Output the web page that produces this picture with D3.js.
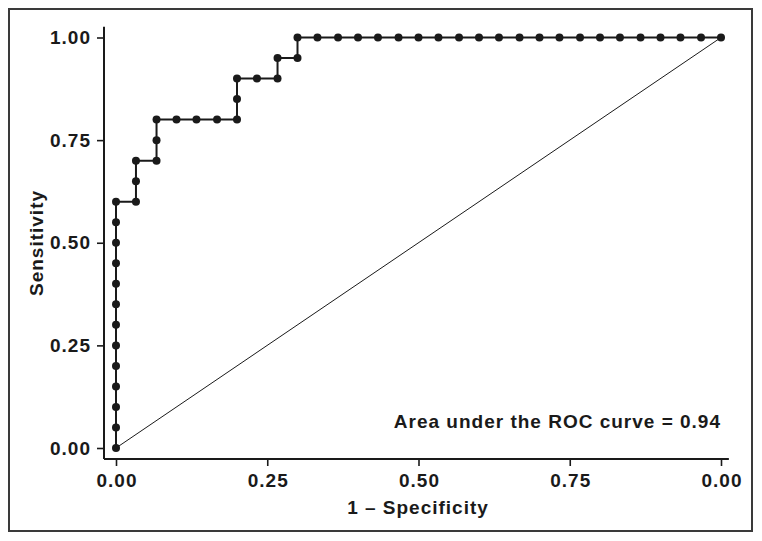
<!DOCTYPE html>
<html>
<head>
<meta charset="utf-8">
<script src="https://cdn.jsdelivr.net/npm/d3@7"></script>
<style>
  html, body { margin: 0; padding: 0; background: #fff; }
  svg { display: block; }
  text { font-family: "Liberation Sans", Arial, Helvetica, sans-serif; font-weight: bold; fill: #1a1a1a; }
</style>
</head>
<body>
<svg id="chart" width="762" height="541"></svg>
<script>
// ---- Data ----
const fpr = [0, 0, 0, 0, 0, 0, 0, 0, 0, 0, 0, 0, 0,
             0.033, 0.033, 0.033,
             0.067, 0.067, 0.067,
             0.1, 0.133, 0.167,
             0.2, 0.2, 0.2,
             0.233,
             0.267, 0.267,
             0.3, 0.3,
             0.333, 0.367, 0.4, 0.433, 0.467, 0.5, 0.533, 0.567, 0.6, 0.633,
             0.667, 0.7, 0.733, 0.767, 0.8, 0.833, 0.867, 0.9, 0.933, 0.967, 1.0];
const tpr = [0, 0.05, 0.1, 0.15, 0.2, 0.25, 0.3, 0.35, 0.4, 0.45, 0.5, 0.55, 0.6,
             0.6, 0.65, 0.7,
             0.7, 0.75, 0.8,
             0.8, 0.8, 0.8,
             0.8, 0.85, 0.9,
             0.9,
             0.9, 0.95,
             0.95, 1.0,
             1.0, 1.0, 1.0, 1.0, 1.0, 1.0, 1.0, 1.0, 1.0, 1.0,
             1.0, 1.0, 1.0, 1.0, 1.0, 1.0, 1.0, 1.0, 1.0, 1.0, 1.0];
const xTickValues = [0, 0.25, 0.5, 0.75, 1];
const xTickLabels = ["0.00", "0.25", "0.50", "0.75", "0.00"];
const yTickValues = [0, 0.25, 0.5, 0.75, 1];
const yTickLabels = ["0.00", "0.25", "0.50", "0.75", "1.00"];
const xTitle = "1 \u2013 Specificity";
const yTitle = "Sensitivity";
const aucLabel = "Area under the ROC curve = 0.94";

// ---- Layout ----
const svg = d3.select("#chart");
const ink = "#1a1a1a";
const x = d3.scaleLinear().domain([0, 1]).range([116, 721]);
const y = d3.scaleLinear().domain([0, 1]).range([448, 37.5]);
const axisY = 459;   // pixel position of x-axis line
const axisX = 104;   // pixel position of y-axis line
const fontSize = 19;
const spacing = "1px";

// outer frame
svg.append("rect")
  .attr("x", 9).attr("y", 9).attr("width", 743).attr("height", 522)
  .attr("fill", "none").attr("stroke", "#3a3a3a").attr("stroke-width", 2);

// x axis
const xAxis = d3.axisBottom(x)
  .tickValues(xTickValues)
  .tickFormat((d, i) => xTickLabels[i])
  .tickSize(7).tickSizeOuter(0).tickPadding(8);
const gx = svg.append("g").attr("transform", `translate(0,${axisY})`).call(xAxis);
gx.select(".domain").remove();
gx.append("line")
  .attr("x1", axisX).attr("x2", x(1.013)).attr("y1", 0).attr("y2", 0)
  .attr("stroke", ink).attr("stroke-width", 2);
gx.selectAll(".tick line").attr("stroke", ink).attr("stroke-width", 1.6);
gx.selectAll(".tick text")
  .attr("font-size", fontSize).style("letter-spacing", spacing)
  .attr("font-family", null).attr("fill", ink)
  .attr("dx", "0.5px");

// y axis
const yAxis = d3.axisLeft(y)
  .tickValues(yTickValues)
  .tickFormat((d, i) => yTickLabels[i])
  .tickSize(7).tickSizeOuter(0).tickPadding(6);
const gy = svg.append("g").attr("transform", `translate(${axisX},0)`).call(yAxis);
gy.select(".domain").remove();
gy.append("line")
  .attr("x1", 0).attr("x2", 0).attr("y1", y(1.026)).attr("y2", axisY)
  .attr("stroke", ink).attr("stroke-width", 2);
gy.selectAll(".tick line").attr("stroke", ink).attr("stroke-width", 1.6);
gy.selectAll(".tick text")
  .attr("font-size", fontSize).style("letter-spacing", spacing)
  .attr("font-family", null).attr("fill", ink);

// reference diagonal
svg.append("line")
  .attr("x1", x(0)).attr("y1", y(0)).attr("x2", x(1)).attr("y2", y(1))
  .attr("stroke", ink).attr("stroke-width", 1);

// ROC curve
const pts = fpr.map((f, i) => [f, tpr[i]]);
svg.append("path")
  .datum(pts)
  .attr("fill", "none").attr("stroke", ink).attr("stroke-width", 2)
  .attr("d", d3.line().x(d => x(d[0])).y(d => y(d[1])));
svg.append("g").selectAll("circle")
  .data(pts).join("circle")
  .attr("cx", d => x(d[0])).attr("cy", d => y(d[1])).attr("r", 4)
  .attr("fill", ink);

// titles
svg.append("text")
  .attr("x", 418).attr("y", 514)
  .attr("text-anchor", "middle").attr("font-size", fontSize)
  .style("letter-spacing", spacing)
  .text(xTitle);
svg.append("text")
  .attr("transform", "translate(43,243) rotate(-90)")
  .attr("text-anchor", "middle").attr("font-size", fontSize)
  .style("letter-spacing", spacing)
  .text(yTitle);

// AUC annotation
svg.append("text")
  .attr("x", 721).attr("y", 428)
  .attr("text-anchor", "end").attr("font-size", fontSize)
  .style("letter-spacing", spacing)
  .text(aucLabel);
</script>
</body>
</html>
